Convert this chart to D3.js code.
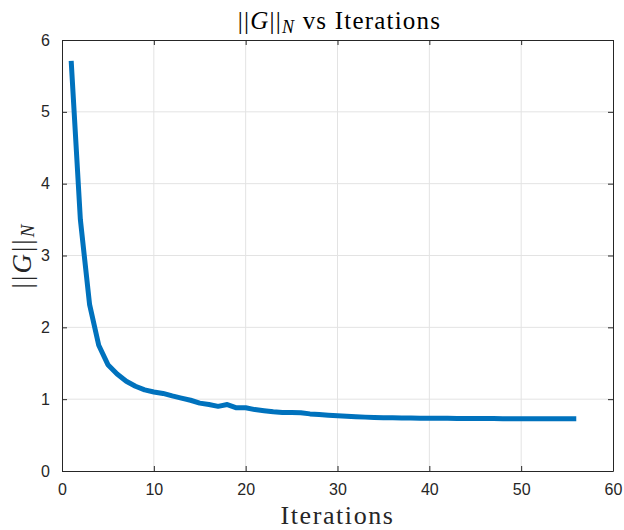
<!DOCTYPE html>
<html><head><meta charset="utf-8">
<script src="https://cdn.jsdelivr.net/npm/d3@7"></script>
<style>body{margin:0;background:#fff}svg{display:block}</style>
</head><body>
<script>
const iterations = d3.range(1, 57);
const gNorm = [5.71, 3.50, 2.32, 1.75, 1.48, 1.35, 1.25, 1.18, 1.13, 1.10,
  1.08, 1.045, 1.015, 0.985, 0.945, 0.925, 0.900, 0.925, 0.880, 0.880,
  0.855, 0.840, 0.825, 0.815, 0.815, 0.812, 0.795, 0.785, 0.777, 0.770,
  0.762, 0.756, 0.750, 0.746, 0.743, 0.741, 0.739, 0.737, 0.736, 0.735,
  0.734, 0.733, 0.732, 0.731, 0.731, 0.730, 0.730, 0.729, 0.729, 0.728,
  0.728, 0.728, 0.727, 0.727, 0.727, 0.727];
const xTicks = [0, 10, 20, 30, 40, 50, 60];
const yTicks = [0, 1, 2, 3, 4, 5, 6];

const W = 624, H = 530;
const m = {l: 62, r: 11, t: 40, b: 59};
const svg = d3.select("body").append("svg").attr("width", W).attr("height", H);
const x = d3.scaleLinear().domain([0, 60]).range([m.l, W - m.r]);
const y = d3.scaleLinear().domain([0, 6]).range([H - m.b, m.t]);
const axisCol = "#262626";

// grid
svg.append("g").selectAll("line").data(xTicks.slice(1, -1)).join("line")
  .attr("x1", d => x(d)).attr("x2", d => x(d)).attr("y1", y(0)).attr("y2", y(6))
  .attr("stroke", "#e3e3e3").attr("stroke-width", 1);
svg.append("g").selectAll("line").data(yTicks.slice(1, -1)).join("line")
  .attr("y1", d => y(d)).attr("y2", d => y(d)).attr("x1", x(0)).attr("x2", x(60))
  .attr("stroke", "#e3e3e3").attr("stroke-width", 1);

// line
svg.append("path").datum(iterations.map((d, i) => [d, gNorm[i]]))
  .attr("fill", "none").attr("stroke", "#0072BD").attr("stroke-width", 5)
  .attr("stroke-linejoin", "round")
  .attr("d", d3.line().x(d => x(d[0])).y(d => y(d[1])));

// axes
const fmt = d3.format("d");
const tickFont = g => g.selectAll("text").attr("font-family", "'Liberation Sans', Arial, sans-serif")
  .attr("font-size", 16).attr("fill", axisCol);
const styleAx = g => { g.select(".domain").attr("stroke", axisCol); g.selectAll(".tick line").attr("stroke", axisCol); };

svg.append("g").attr("transform", `translate(0,${y(0)})`)
  .call(d3.axisBottom(x).tickValues(xTicks).tickFormat(fmt).tickSize(-5).tickSizeOuter(0).tickPadding(13))
  .call(styleAx).call(tickFont);
svg.append("g").attr("transform", `translate(0,${y(6)})`)
  .call(d3.axisTop(x).tickValues(xTicks).tickSize(-5).tickSizeOuter(0).tickFormat(""))
  .call(styleAx);
svg.append("g").attr("transform", `translate(${x(0)},0)`)
  .call(d3.axisLeft(y).tickValues(yTicks).tickFormat(fmt).tickSize(-5).tickSizeOuter(0).tickPadding(12))
  .call(styleAx).call(tickFont);
svg.append("g").attr("transform", `translate(${x(60)},0)`)
  .call(d3.axisRight(y).tickValues(yTicks).tickSize(-5).tickSizeOuter(0).tickFormat(""))
  .call(styleAx);

// title
const serif = "'Liberation Serif', 'Times New Roman', serif";
const title = svg.append("text").attr("x", (x(0) + x(60)) / 2 + 2).attr("y", 29)
  .attr("text-anchor", "middle").attr("font-family", serif).attr("font-size", 25)
  .attr("letter-spacing", 1.2).attr("fill", "#000");
title.append("tspan").text("||");
title.append("tspan").attr("font-style", "italic").text("G");
title.append("tspan").text("||");
title.append("tspan").attr("font-style", "italic").attr("font-size", 18).attr("dy", 4).text("N");
title.append("tspan").attr("dy", -4).text("  vs Iterations");

// x label
svg.append("text").attr("x", (x(0) + x(60)) / 2).attr("y", 524)
  .attr("text-anchor", "middle").attr("font-family", serif).attr("font-size", 26)
  .attr("letter-spacing", 1.6).attr("fill", "#262626").text("Iterations");

// y label
const ylab = svg.append("text").attr("transform", `translate(31,${(y(0) + y(6)) / 2}) rotate(-90)`)
  .attr("text-anchor", "middle").attr("font-family", serif).attr("font-size", 27)
  .attr("letter-spacing", 2).attr("fill", "#262626");
ylab.append("tspan").text("||");
ylab.append("tspan").attr("font-style", "italic").text("G");
ylab.append("tspan").text("||");
ylab.append("tspan").attr("font-style", "italic").attr("font-size", 19).attr("dy", 3).text("N");
</script>
</body></html>
